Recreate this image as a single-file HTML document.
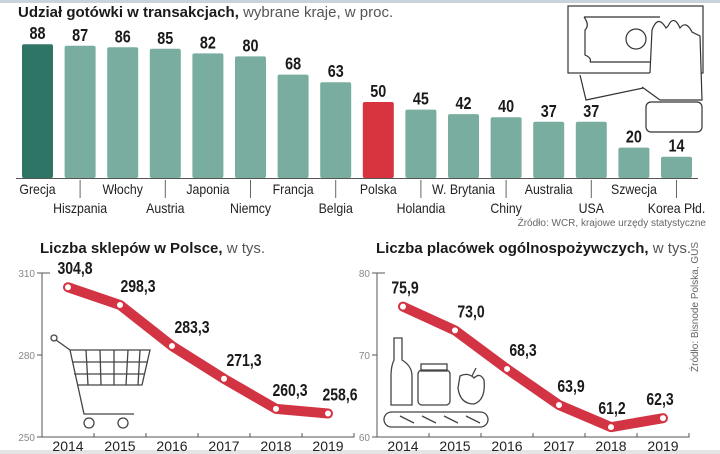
<!DOCTYPE html>
<html><head><meta charset="utf-8">
<style>
html,body{margin:0;padding:0;background:#fff;}
body{width:720px;height:454px;overflow:hidden;position:relative;font-family:"Liberation Sans",sans-serif;}
svg{position:absolute;left:0;top:0;}
</style></head>
<body>
<svg id="s" width="720" height="454" viewBox="0 0 720 454" font-family="Liberation Sans, sans-serif">
<rect x="0" y="0" width="720" height="3" fill="#c9d3de"/>
<rect x="0" y="450" width="720" height="4" fill="#e4e4e4"/>
<text x="18" y="17" font-size="15"><tspan font-weight="bold" fill="#1a1a1a">Udział gotówki w transakcjach,</tspan><tspan fill="#555"> wybrane kraje, w proc.</tspan></text>
<g fill="none" stroke="#333" stroke-width="1.2">
<rect x="568" y="6" width="135" height="67" fill="#fff"/>
<path d="M580 75 L586 100 L648 87"/>
<path d="M584 17 L660 17 M590 62 L650 62 M584 17 Q590 25 585 30 L585 55 Q592 58 590 62"/>
<circle cx="636" cy="39" r="10"/>
<path d="M650 73 L652 30 Q658 14 666 28 L668 26 Q674 14 680 28 Q686 20 692 32 L700 36 L702 100 L660 100 L642 87" fill="#fff"/>
<rect x="646" y="102" width="56" height="30" rx="5" fill="#fff"/>
</g>
<g id="bars"></g>
<text x="706" y="226" font-size="10" fill="#666" text-anchor="end">Źródło: WCR, krajowe urzędy statystyczne</text>
<text x="40" y="253" font-size="15"><tspan font-weight="bold" fill="#1a1a1a">Liczba sklepów w Polsce,</tspan><tspan fill="#555"> w tys.</tspan></text>
<text x="376" y="253" font-size="15"><tspan font-weight="bold" fill="#1a1a1a">Liczba placówek ogólnospożywczych,</tspan><tspan fill="#555"> w tys.</tspan></text>
<text transform="translate(698,372) rotate(-90)" font-size="10" fill="#666">Źródło: Bisnode Polska, GUS</text>
<g fill="none" stroke="#444" stroke-width="1.3">
<circle cx="54" cy="338" r="3"/>
<path d="M56 340 L70 350 L84 414 L134 414"/>
<path d="M70 350 L150 350 L142 385 L78 385"/>
<path d="M72 362 L148 362 M74 374 L145 374 M86 350 L88 385 M100 350 L101 385 M114 350 L114 385 M128 350 L126 385 M140 350 L138 385"/>
<circle cx="89" cy="423" r="5"/><circle cx="123" cy="423" r="5"/>
</g>
<g fill="none" stroke="#444" stroke-width="1.3">
<path d="M394 338 L402 338 L402 360 Q412 366 412 376 L412 405 L391 405 L391 376 Q391 366 394 360 Z"/>
<rect x="418" y="370" width="32" height="35" rx="4"/><rect x="421" y="364" width="26" height="7"/>
<path d="M460 376 Q468 372 474 378 Q480 372 484 380 Q486 400 474 404 Q460 404 458 388 Z M472 376 L476 368"/>
<rect x="384" y="412" width="104" height="15" rx="7.5"/>
<path d="M400 416 L414 423 M422 416 L436 423 M444 416 L458 423 M466 416 L480 423"/>
</g>
<g id="line1"></g>
<g id="line2"></g>
</svg>
<script>
var countries=["Grecja","Hiszpania","Włochy","Austria","Japonia","Niemcy","Francja","Belgia","Polska","Holandia","W. Brytania","Chiny","Australia","USA","Szwecja","Korea Płd."];
var cashShare=[88,87,86,85,82,80,68,63,50,45,42,40,37,37,20,14];
var years=["2014","2015","2016","2017","2018","2019"];
var shops=[304.8,298.3,283.3,271.3,260.3,258.6];
var shopLabels=["304,8","298,3","283,3","271,3","260,3","258,6"];
var shopTicks=[250,280,310];
var grocery=[75.9,73.0,68.3,63.9,61.2,62.3];
var groceryLabels=["75,9","73,0","68,3","63,9","61,2","62,3"];
var groceryTicks=[60,70,80];
var NS="http://www.w3.org/2000/svg";
function mk(p,t,a,txt){var e=document.createElementNS(NS,t);for(var k in a)e.setAttribute(k,a[k]);if(txt!==undefined)e.textContent=txt;p.appendChild(e);return e;}
function narrowText(p,x,y,size,sx,anchor,txt,bold){
 return mk(p,'text',{transform:'translate('+x+','+y+') scale('+sx+',1)','font-size':size,'font-weight':bold?'bold':'normal','text-anchor':anchor,fill:bold?'#1a1a1a':'#222'},txt);
}
// bar chart
var bg=document.getElementById('bars');
var base=178,pxu=1.52,x0=22,step=42.6,bw=31;
function bx(i){return x0+i*step;}
function by(v){return base-v*pxu;}
mk(bg,'line',{x1:16,y1:base+0.5,x2:698,y2:base+0.5,stroke:'#555','stroke-width':1});
for(var i=0;i<countries.length;i++){
 var col=i===0?'#2f7566':(countries[i]==="Polska"?'#d8343f':'#79ad9f');
 var r=mk(bg,'rect',{x:bx(i),y:by(cashShare[i]),width:bw,height:cashShare[i]*pxu,rx:2,fill:col});
 
 
 var t=narrowText(bg,bx(i)+bw/2,by(cashShare[i])-5,18,0.8,'middle',String(cashShare[i]),true);
 
 
 var ly=i%2===0?194:213;
 var l=narrowText(bg,bx(i)+bw/2,ly,14,0.88,'middle',countries[i],false);
 
 
 if(i%2===1){mk(bg,'line',{x1:bx(i)+bw/2,y1:180,x2:bx(i)+bw/2,y2:198,stroke:'#666','stroke-width':1});}
}
// line charts
function lineChart(g,vals,labels,ticks,axX,xFirst,name,dxs){
 var yTop=273,yBot=437,lo=ticks[0],hi=ticks[ticks.length-1],st=52;
 function ys(v){return yBot-(v-lo)/(hi-lo)*(yBot-yTop);}
 function xs(i){return xFirst+i*st;}
 mk(g,'path',{d:'M'+(axX+8)+' '+yTop+' L'+axX+' '+yTop+' L'+axX+' '+yBot+' L'+(xs(5)+26)+' '+yBot+' L'+(xs(5)+26)+' '+(yBot-4),fill:'none',stroke:'#555','stroke-width':1});
 ticks.forEach(function(tv){
  mk(g,'line',{x1:axX-5,y1:ys(tv),x2:axX,y2:ys(tv),stroke:'#555'});
  var tl=mk(g,'text',{x:axX-7,y:ys(tv)+4,'font-size':10,'text-anchor':'end',fill:'#888'},String(tv));
  
  
 });
 years.forEach(function(y,i){
  if(i<5)mk(g,'line',{x1:xs(i)+26,y1:yBot-4,x2:xs(i)+26,y2:yBot,stroke:'#555'});
  var yl=mk(g,'text',{x:xs(i),y:451,'font-size':14,'text-anchor':'middle',fill:'#222'},y);
  
  
 });
 var d=vals.map(function(v,i){return (i?'L':'M')+xs(i)+' '+ys(v);}).join(' ');
 var p=mk(g,'path',{d:d,fill:'none',stroke:'#d33443','stroke-width':10,'stroke-linejoin':'round','stroke-linecap':'round'});
 
 
 vals.forEach(function(v,i){
  var c=mk(g,'circle',{cx:xs(i),cy:ys(v),r:3.5,fill:'#fff',stroke:'#d33443','stroke-width':1});
  
  
  var lt=narrowText(g,xs(i)+dxs[i],ys(v)-13,18,0.78,'middle',labels[i],true);
  
  
 });
}
lineChart(document.getElementById('line1'),shops,shopLabels,shopTicks,42,68,'shops',[7,18,20,20,14,12]);
lineChart(document.getElementById('line2'),grocery,groceryLabels,groceryTicks,377,403,'grocery',[2,16,16,12,1,-3]);
</script>
</body></html>
